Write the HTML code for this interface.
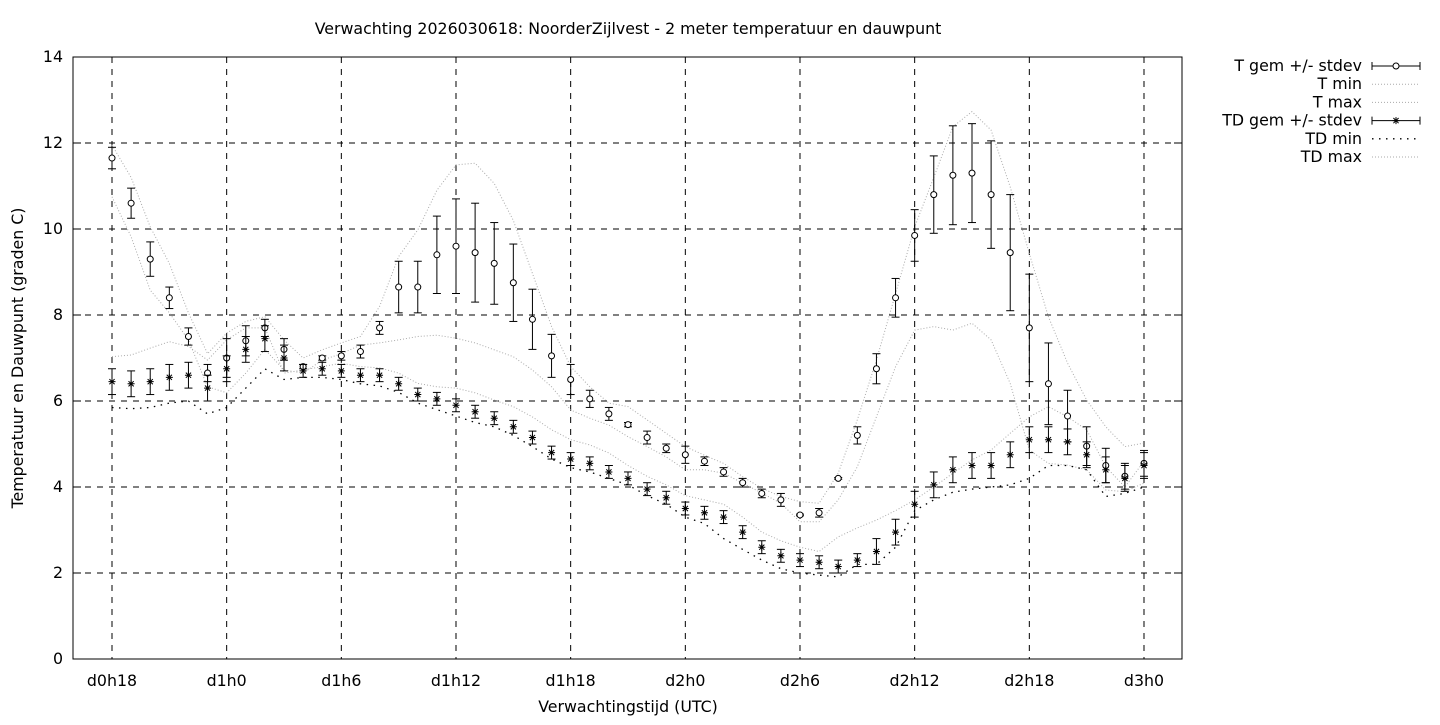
<!DOCTYPE html>
<html><head><meta charset="utf-8"><style>
body{margin:0;background:#fff;}
svg text{font-family:"DejaVu Sans","Liberation Sans",sans-serif;font-size:15.8px;fill:#000;}
</style></head><body>
<svg id="s" width="1440" height="720" xmlns="http://www.w3.org/2000/svg">
<text x="628" y="34" text-anchor="middle">Verwachting 2026030618: NoorderZijlvest - 2 meter temperatuur en dauwpunt</text>
<text x="628" y="712" text-anchor="middle">Verwachtingstijd (UTC)</text>
<text transform="translate(23,358) rotate(-90)" text-anchor="middle">Temperatuur en Dauwpunt (graden C)</text>
<g id="g"></g>
</svg>
<script>
const g=document.getElementById('g');let h='';
const X0=73,X1=1182,Y0=659,Y1=57;
const yy=v=>659-v*43, xx=hr=>112+(hr-18)*19.111;
for(let v=0;v<=14;v+=2){const y=yy(v);
 if(v>0&&v<14)h+=`<line x1="${X0}" x2="${X1}" y1="${y}" y2="${y}" stroke="#000" stroke-dasharray="6,6" stroke-width="1"/>`;
 h+=`<line x1="${X0}" x2="${X0+8}" y1="${y}" y2="${y}" stroke="#000"/><line x1="${X1-8}" x2="${X1}" y1="${y}" y2="${y}" stroke="#000"/>`;
 h+=`<text x="${X0-10}" y="${y+5}" text-anchor="end">${v}</text>`;}
const labs=['d0h18','d1h0','d1h6','d1h12','d1h18','d2h0','d2h6','d2h12','d2h18','d3h0'];
labs.forEach((l,i)=>{const x=xx(18+i*6);
 h+=`<line x1="${x}" x2="${x}" y1="${Y1}" y2="${Y0}" stroke="#000" stroke-dasharray="6,6"/>`;
 h+=`<text x="${x}" y="686" text-anchor="middle">${l}</text>`;});
h+=`<rect x="${X0}" y="${Y1}" width="${X1-X0}" height="${Y0-Y1}" fill="none" stroke="#000"/>`;
const T=[11.65,10.6,9.3,8.4,7.5,6.65,7.0,7.4,7.7,7.2,6.8,7.0,7.05,7.15,7.7,8.65,8.65,9.4,9.6,9.45,9.2,8.75,7.9,7.05,6.5,6.05,5.7,5.45,5.15,4.9,4.75,4.6,4.35,4.1,3.85,3.7,3.35,3.4,4.2,5.2,6.75,8.4,9.85,10.8,11.25,11.3,10.8,9.45,7.7,6.4,5.65,4.95,4.5,4.25,4.55];
const TS=[.25,.35,.4,.25,.2,.2,.45,.35,.2,.25,.05,.05,.1,.15,.15,.6,.6,.9,1.1,1.15,.95,.9,.7,.5,.35,.2,.15,.05,.15,.1,.2,.1,.1,.1,.1,.15,.02,.1,.02,.2,.35,.45,.6,.9,1.15,1.15,1.25,1.35,1.25,.95,.6,.45,.4,.3,.3];
const D=[6.45,6.4,6.45,6.55,6.6,6.3,6.75,7.2,7.45,7.0,6.7,6.75,6.7,6.6,6.6,6.4,6.15,6.05,5.9,5.75,5.6,5.4,5.15,4.8,4.65,4.55,4.35,4.2,3.95,3.75,3.5,3.4,3.3,2.95,2.6,2.4,2.3,2.25,2.15,2.3,2.5,2.95,3.6,4.05,4.4,4.5,4.5,4.75,5.1,5.1,5.05,4.75,4.4,4.2,4.5];
const DS=D.map((v,i)=>i<10?0.3:i<40?0.15:0.3);
const Tmax=[11.95,11.2,10.05,9.2,8.05,7.1,7.58,7.85,7.96,7.42,7.0,7.19,7.35,7.5,8.2,9.36,9.98,10.9,11.49,11.53,11.06,10.2,8.97,7.73,6.8,6.33,5.95,5.87,5.56,5.25,4.94,4.74,4.55,4.24,3.97,3.78,3.66,3.62,4.32,5.56,6.95,8.5,10.05,11.2,12.38,12.73,12.3,10.98,9.43,7.96,6.88,6.02,5.4,4.94,5.02];
const Tmin=[10.75,9.82,8.58,8.05,7.42,6.33,6.19,6.65,7.2,6.72,6.65,6.95,7.1,7.3,7.35,7.42,7.5,7.53,7.46,7.35,7.19,7.03,6.72,6.33,5.79,5.6,5.44,5.17,4.94,4.7,4.4,4.4,4.32,4.09,3.86,3.62,3.19,3.19,3.7,4.47,5.63,6.8,7.65,7.73,7.65,7.81,7.42,6.41,4.86,4.55,4.51,4.4,3.93,3.89,4.09];
const Dmax=[7.03,7.07,7.23,7.38,7.27,6.95,7.42,7.7,7.7,6.65,6.72,6.8,6.88,6.8,6.77,6.65,6.41,6.33,6.3,6.19,6.02,5.87,5.63,5.33,5.1,4.98,4.79,4.5,4.25,4.05,3.8,3.7,3.6,3.3,2.95,2.75,2.6,2.5,2.84,3.05,3.23,3.45,3.7,4.0,4.32,4.63,4.86,5.25,5.63,5.87,5.63,5.33,4.47,4.0,4.6];
const Dmin=[5.85,5.82,5.85,5.95,6.0,5.7,5.85,6.3,6.75,6.5,6.55,6.55,6.5,6.4,6.35,6.2,5.95,5.8,5.65,5.5,5.4,5.2,4.94,4.65,4.45,4.35,4.2,4.05,3.8,3.6,3.3,3.15,2.8,2.55,2.3,2.1,2.0,1.95,1.91,2.2,2.2,2.6,3.45,3.7,3.88,3.95,4.0,4.05,4.2,4.5,4.5,4.4,3.78,3.85,4.0];
function line(arr,dash,col,w){let p=arr.map((v,i)=>`${xx(18+i).toFixed(1)},${yy(v).toFixed(1)}`).join(' ');
 return `<polyline points="${p}" fill="none" stroke="${col}" stroke-width="${w}" stroke-dasharray="${dash}"/>`;}
h+=line(Tmin,'1,2','#aaa',1)+line(Tmax,'1,2','#aaa',1)+line(Dmax,'1,2','#aaa',1)+line(Dmin,'1.5,5.5','#000',1.3);
function eb(x,m,s){const a=yy(m-s),b=yy(m+s);return `<line x1="${x}" x2="${x}" y1="${a}" y2="${b}" stroke="#000"/><line x1="${x-4}" x2="${x+4}" y1="${a}" y2="${a}" stroke="#000"/><line x1="${x-4}" x2="${x+4}" y1="${b}" y2="${b}" stroke="#000"/>`;}
function star(x,y){return `<path d="M${x-3.5},${y}h7M${x},${y-3.5}v7M${x-2.6},${y-2.6}l5.2,5.2M${x-2.6},${y+2.6}l5.2,-5.2" stroke="#000"/>`;}
T.forEach((v,i)=>{const x=xx(18+i);h+=eb(x,v,TS[i])+`<circle cx="${x}" cy="${yy(v)}" r="3" fill="#fff" stroke="#000"/>`;});
D.forEach((v,i)=>{const x=xx(18+i);h+=eb(x,v,DS[i])+star(x,yy(v));});
const L=[['T gem +/- stdev','o'],['T min','g'],['T max','g'],['TD gem +/- stdev','*'],['TD min','k'],['TD max','g']];
L.forEach((e,i)=>{const y=66+i*18.2;h+=`<text x="1362" y="${y+5}" text-anchor="end">${e[0]}</text>`;
 if(e[1]=='o'||e[1]=='*'){h+=`<line x1="1372" x2="1420" y1="${y}" y2="${y}" stroke="#000"/><line x1="1372" x2="1372" y1="${y-4}" y2="${y+4}" stroke="#000"/><line x1="1420" x2="1420" y1="${y-4}" y2="${y+4}" stroke="#000"/>`;
  h+=e[1]=='o'?`<circle cx="1396" cy="${y}" r="3" fill="#fff" stroke="#000"/>`:star(1396,y);}
 else if(e[1]=='k') h+=`<line x1="1372" x2="1420" y1="${y}" y2="${y}" stroke="#000" stroke-width="1.3" stroke-dasharray="1.5,5.5"/>`;
 else h+=`<line x1="1372" x2="1420" y1="${y}" y2="${y}" stroke="#aaa" stroke-dasharray="1,2"/>`;});
g.innerHTML=h;
</script>
</body></html>
